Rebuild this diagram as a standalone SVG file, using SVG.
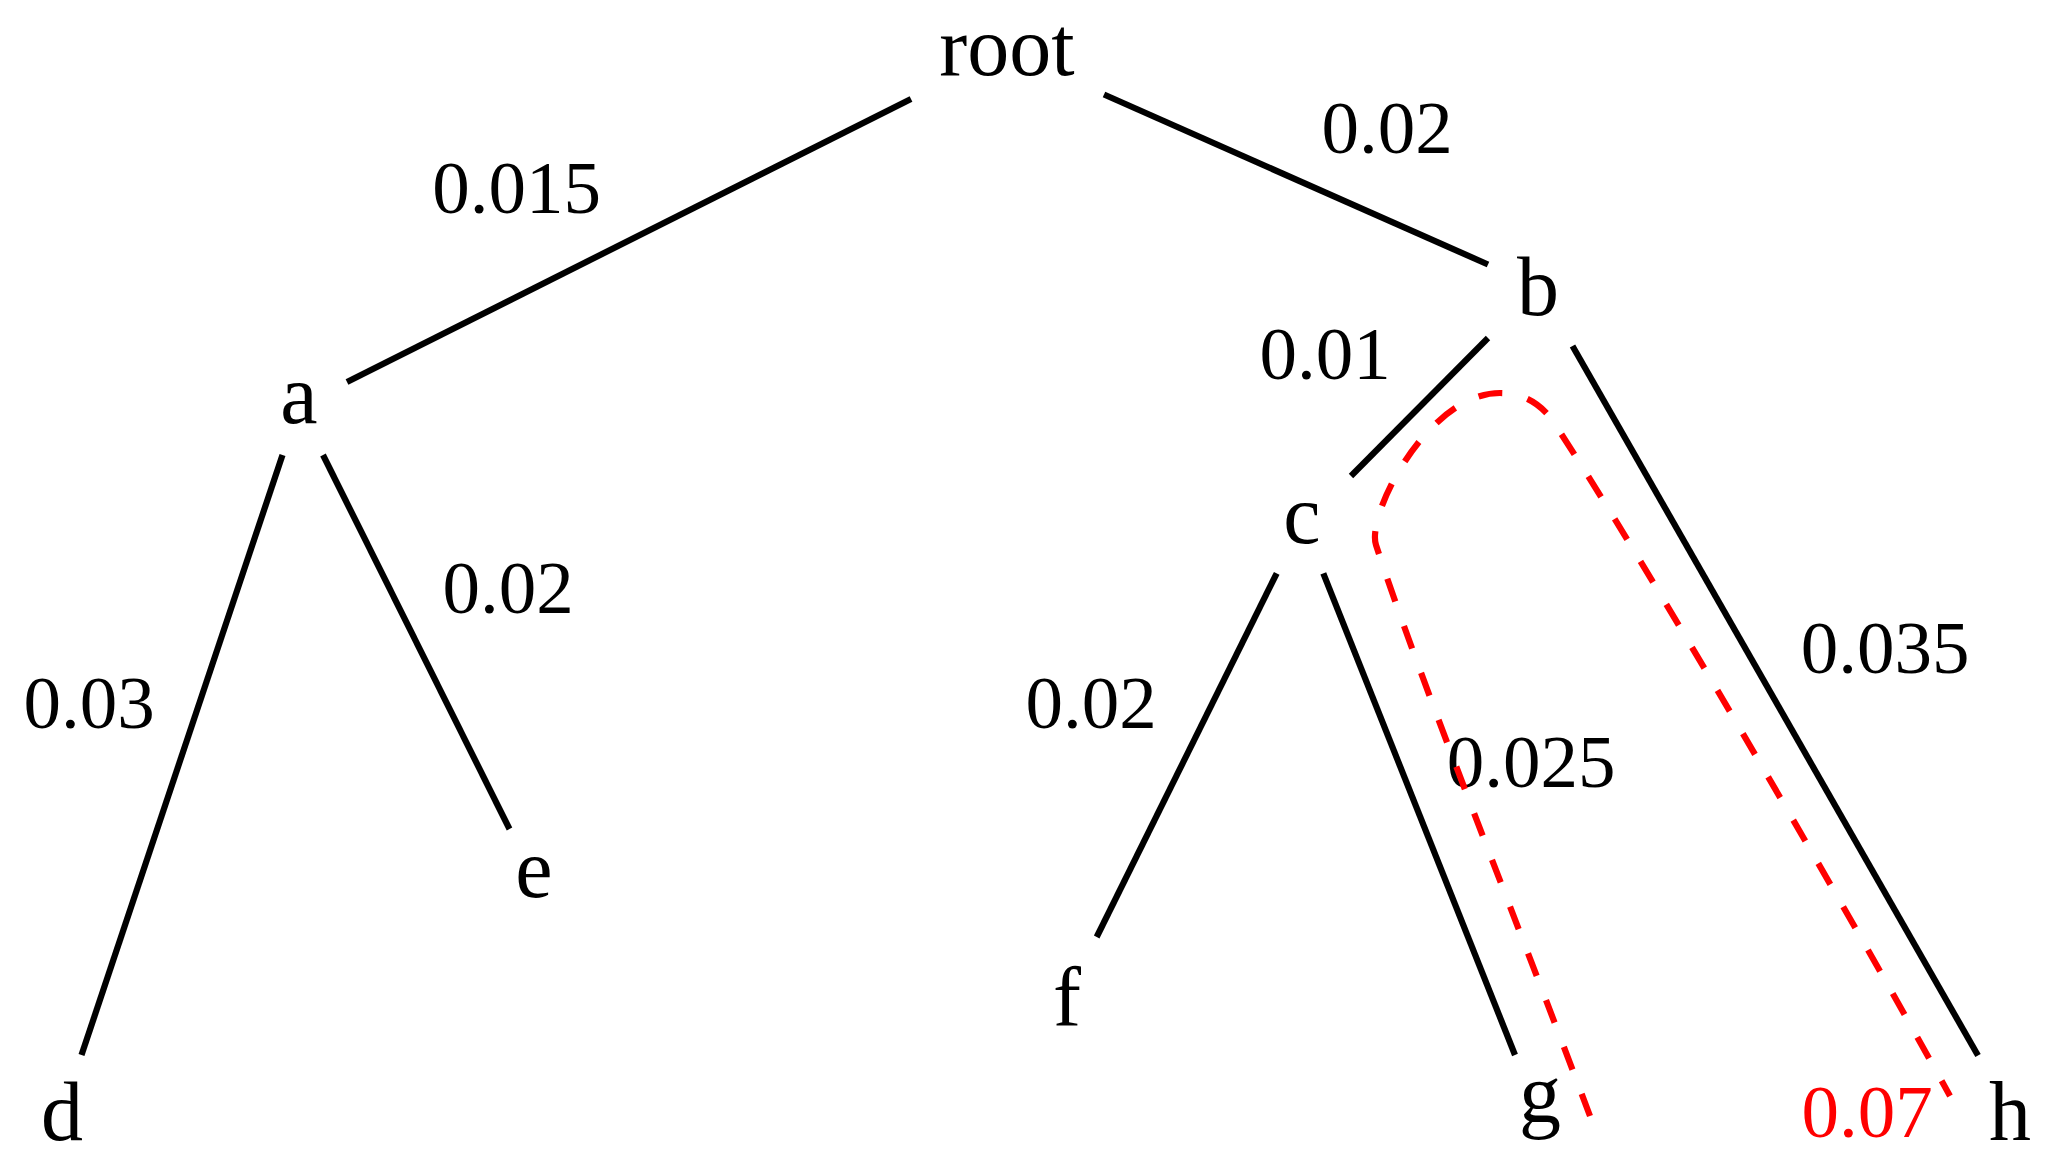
<svg xmlns="http://www.w3.org/2000/svg" width="2060" height="1173" viewBox="0 0 2060 1173">
<style>
.node text{font-family:"Liberation Serif","Times New Roman",serif;font-size:84px;fill:#000;text-anchor:middle}
.lbl{font-family:"Liberation Serif","Times New Roman",serif;font-size:75px;fill:#000;text-anchor:middle}
.edge{stroke:#000;stroke-width:6.2;fill:none;stroke-linecap:butt}
.path{stroke:#ff0000;stroke-width:6.2;fill:none;stroke-dasharray:24 26}
</style>
<rect width="2060" height="1173" fill="#fff"/>
<g id="connectors">
<line class="edge" x1="911" y1="99" x2="347" y2="382"/>
<line class="edge" x1="1104" y1="94.5" x2="1488" y2="264.5"/>
<line class="edge" x1="1488" y1="338" x2="1351" y2="476"/>
<line class="edge" x1="1572.5" y1="346" x2="1978" y2="1055.5"/>
<line class="edge" x1="282.5" y1="455" x2="81.5" y2="1055"/>
<line class="edge" x1="323" y1="455" x2="509.5" y2="829"/>
<line class="edge" x1="1276.7" y1="573.3" x2="1096.7" y2="937"/>
<line class="edge" x1="1323.3" y1="573.3" x2="1515" y2="1055"/>
</g>
<g id="edge-labels">
<text class="lbl" x="516.5" y="213">0.015</text>
<text class="lbl" x="1387" y="153">0.02</text>
<text class="lbl" x="1325" y="379">0.01</text>
<text class="lbl" x="508" y="613">0.02</text>
<text class="lbl" x="89" y="728">0.03</text>
<text class="lbl" x="1091" y="728">0.02</text>
<text class="lbl" x="1531" y="787">0.025</text>
<text class="lbl" x="1885" y="673">0.035</text>
</g>
<g id="path-highlight">
<path class="path" d="M1590 1116 C1515 916 1420 680 1376 545 C1366 515 1428 393 1500 393 C1525 393 1545 405 1560 432 C1657.5 582 1867.5 946 1950 1096"/>
<text class="lbl" x="1867" y="1137" style="fill:#ff0000">0.07</text>
</g>
<g id="node-root" class="node"><text x="1007" y="74.5">root</text></g>
<g id="node-a" class="node"><text x="299" y="423">a</text></g>
<g id="node-b" class="node"><text x="1538" y="315">b</text></g>
<g id="node-c" class="node"><text x="1302" y="543">c</text></g>
<g id="node-d" class="node"><text x="62" y="1140">d</text></g>
<g id="node-e" class="node"><text x="534" y="897">e</text></g>
<g id="node-f" class="node"><text x="1067" y="1025">f</text></g>
<g id="node-g" class="node"><text x="1540" y="1122">g</text></g>
<g id="node-h" class="node"><text x="2010" y="1140">h</text></g>
</svg>
